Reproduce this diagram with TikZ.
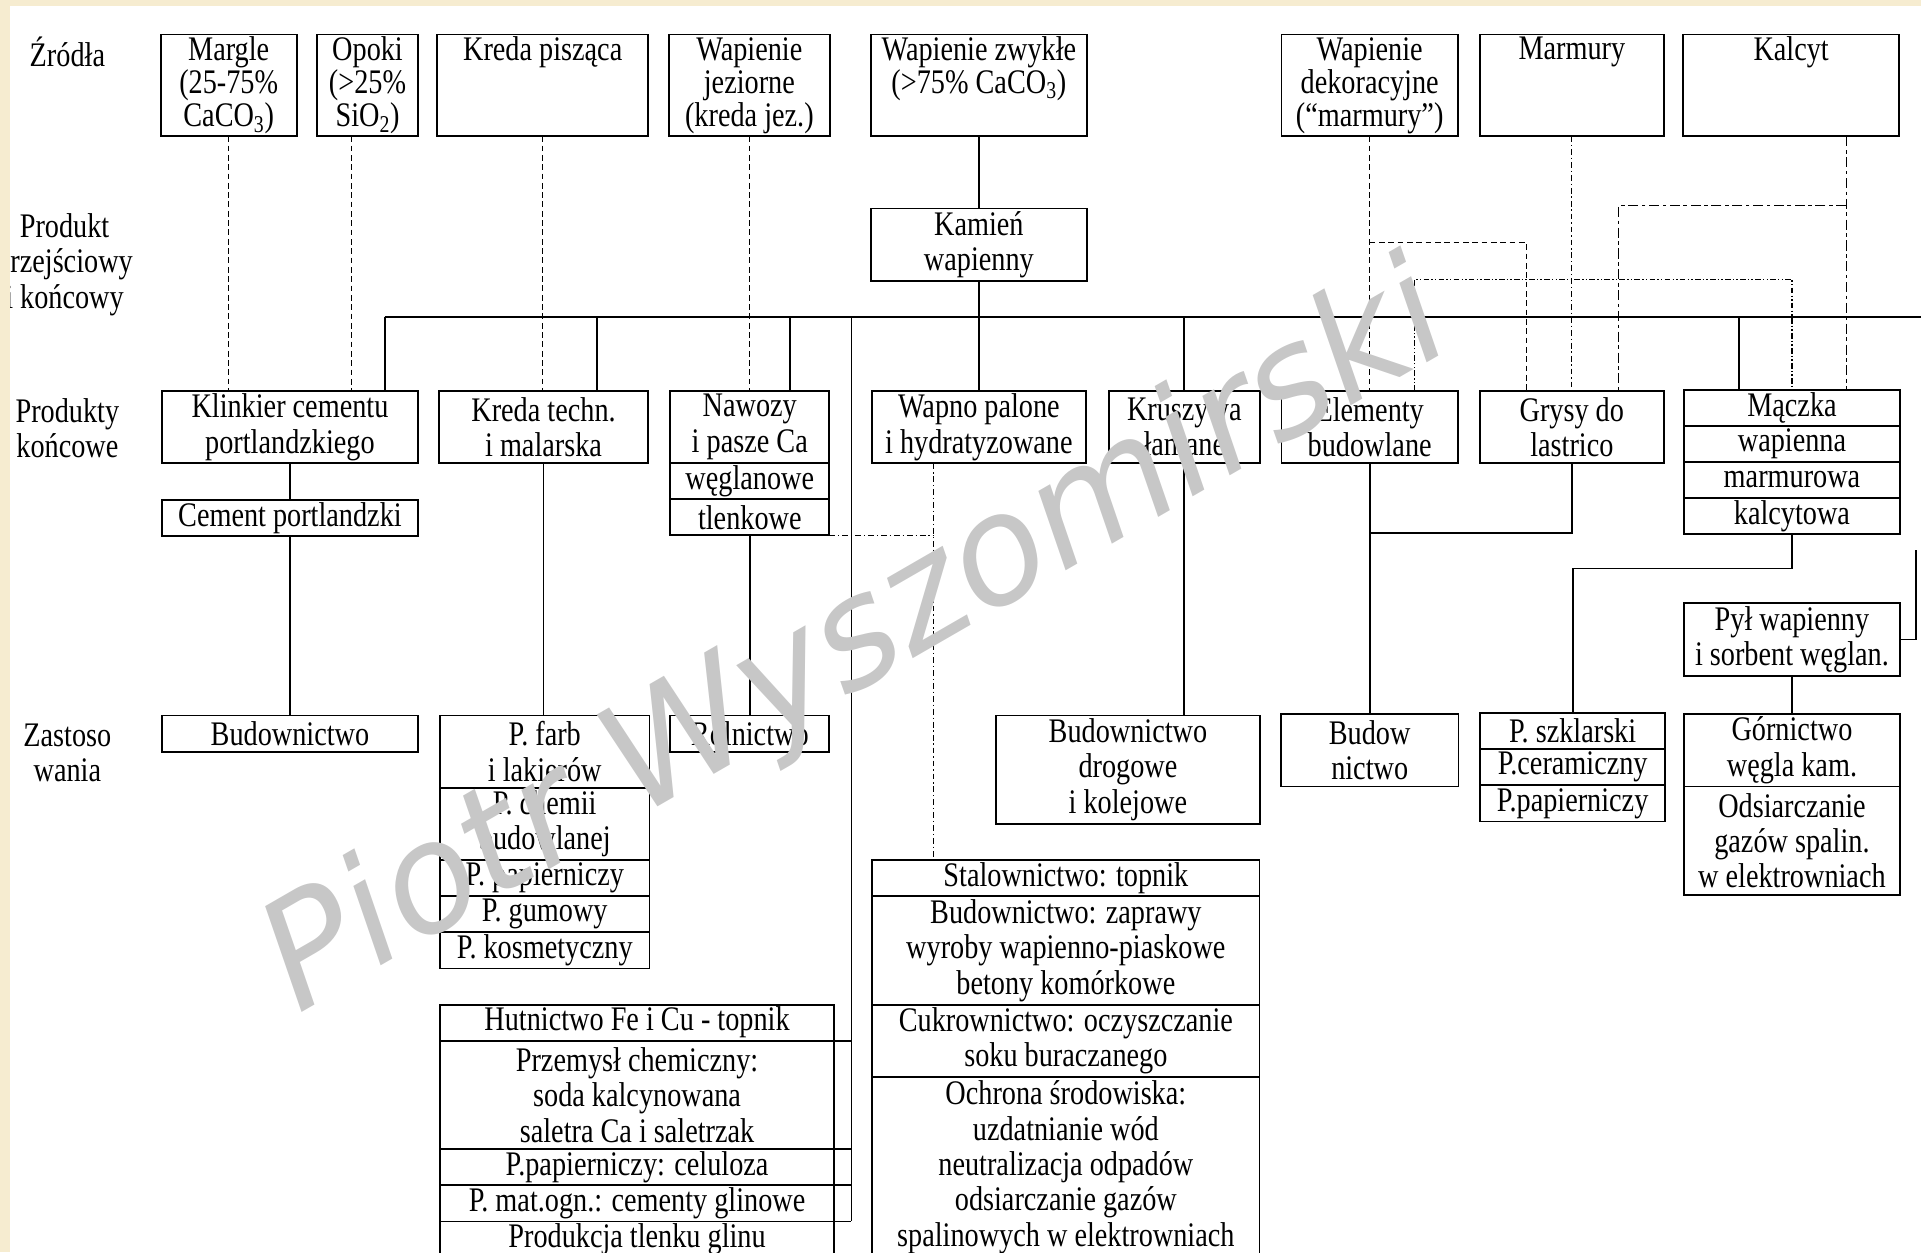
\documentclass[tikz,border=0pt]{standalone}
\usepackage{fontspec}
\setmainfont{Liberation Serif}[FakeStretch=0.82]
\newfontfamily\wmfont{DejaVu Sans}
\usetikzlibrary{positioning}
\definecolor{paper}{RGB}{246,236,208}

\begin{document}
\begin{tikzpicture}[line width=1.3pt, node distance=0pt,
    font=\fontsize{24}{24.7}\selectfont,
    box/.style={draw, align=center, inner sep=0pt, outer sep=0pt},
    src/.style={box, minimum height=2.49cm, font=\fontsize{24}{23}\selectfont},
    h1/.style={box, minimum height=0.885cm},
    h2/.style={box, minimum height=1.77cm},
    h3/.style={box, minimum height=2.655cm},
    h5/.style={box, minimum height=4.425cm},
    lab/.style={align=center, inner sep=0pt},
    dsh/.style={line width=0.8pt, dash pattern=on 4pt off 2.5pt},
    dshdot/.style={line width=0.8pt, dash pattern=on 4pt off 2pt on 1pt off 2pt},
    longdot/.style={line width=0.8pt, dash pattern=on 7pt off 2.5pt on 2.5pt off 2.5pt},
    dotdot/.style={line width=0.8pt, dash pattern=on 4pt off 1.5pt on 1pt off 1.5pt on 1pt off 1.5pt},
    wmark/.style={text=black!22, inner sep=0pt, font=\wmfont\itshape\fontsize{105}{110}\selectfont}]
    \useasboundingbox (0,0) rectangle (47.04,-30.66);
    \clip (0,0) rectangle (47.04,-30.66);

    \node[lab] (zrodla) at (1.65,-1.28) {Źródła};
    \node[lab] (przejsc) at (1.58,-6.48) {Produkt\\ przejściowy\\ i końcowy};
    \node[lab] (koncowe) at (1.65,-10.49) {Produkty\\ końcowe};
    \node[lab] (zastos) at (1.65,-18.44) {Zastoso\\ wania};

    \node[src, minimum width=3.33cm] (margle) at (5.60,-2.09) {Margle\\ (25-75\%\\ CaCO\textsubscript{3})};
    \node[src, minimum width=2.46cm] (opoki) at (9.00,-2.09) {Opoki\\ (>25\%\\ SiO\textsubscript{2})};
    \node[src, minimum width=5.16cm] (kreda) at (13.29,-2.09) {Kreda pisząca\\ \phantom{(}\\ \phantom{(}};
    \node[src, minimum width=3.93cm] (jeziorne) at (18.35,-2.09) {Wapienie\\ jeziorne\\ (kreda jez.)};
    \node[src, minimum width=5.28cm] (zwykle) at (23.97,-2.09) {Wapienie zwykłe\\ (>75\% CaCO\textsubscript{3})\\ \phantom{(}};
    \node[src, minimum width=4.32cm] (dekor) at (33.54,-2.09) {Wapienie\\ dekoracyjne\\ (“marmury”)};
    \node[src, minimum width=4.50cm] (marmury) at (38.49,-2.09) {Marmury\\ \phantom{(}\\ \phantom{(}};
    \node[src, minimum width=5.28cm] (kalcyt) at (43.86,-2.09) {Kalcyt\\ \phantom{(}\\ \phantom{(}};

    \node[h2, minimum width=5.28cm] (kamien) at (23.97,-5.99) {Kamień\\ wapienny};

    \node[h2, minimum width=6.27cm] (klinkier) at (7.10,-10.46) {Klinkier cementu\\ portlandzkiego};
    \node[h1, minimum width=6.27cm] (cement) at (7.10,-12.68) {Cement portlandzki};
    \node[h2, minimum width=5.13cm] (kredatech) at (13.31,-10.46) {Kreda techn.\\ i malarska};
    \node[h2, minimum width=3.90cm, anchor=north] (nawozy1) at (18.36,-9.57) {Nawozy\\ i pasze Ca};
    \node[h1, minimum width=3.90cm, below=of nawozy1] (nawozy2) {węglanowe};
    \node[h1, minimum width=3.90cm, below=of nawozy2] (nawozy3) {tlenkowe};
    \node[h2, minimum width=5.25cm] (wapno) at (23.97,-10.46) {Wapno palone\\ i hydratyzowane};
    \node[h2, minimum width=3.69cm] (kruszywa) at (29.00,-10.46) {Kruszywa\\ łamane};
    \node[h2, minimum width=4.32cm] (elementy) at (33.54,-10.46) {Elementy\\ budowlane};
    \node[h2, minimum width=4.50cm] (grysy) at (38.49,-10.46) {Grysy do\\ lastrico};
    \node[h1, minimum width=5.28cm, anchor=north] (maczka1) at (43.88,-9.54) {Mączka};
    \node[h1, minimum width=5.28cm, below=of maczka1] (maczka2) {wapienna};
    \node[h1, minimum width=5.28cm, below=of maczka2] (maczka3) {marmurowa};
    \node[h1, minimum width=5.28cm, below=of maczka3] (maczka4) {kalcytowa};

    \node[h1, minimum width=6.27cm, anchor=north] (budownictwo) at (7.10,-17.52) {Budownictwo};
    \node[h2, minimum width=5.13cm, anchor=north] (farb1) at (13.34,-17.52) {P. farb\\ i lakierów};
    \node[h2, minimum width=5.13cm, below=of farb1] (farb2) {P. chemii\\ budowlanej};
    \node[h1, minimum width=5.13cm, below=of farb2] (farb3) {P. papierniczy};
    \node[h1, minimum width=5.13cm, below=of farb3] (farb4) {P. gumowy};
    \node[h1, minimum width=5.13cm, below=of farb4] (farb5) {P. kosmetyczny};
    \node[h1, minimum width=3.90cm, anchor=north] (rolnictwo) at (18.36,-17.52) {Rolnictwo};
    \node[h3, minimum width=6.45cm, anchor=north] (drogowe) at (27.62,-17.52) {Budownictwo\\ drogowe\\ i kolejowe};
    \node[h2, minimum width=4.35cm, anchor=north] (budow) at (33.54,-17.49) {Budow\\ nictwo};
    \node[h1, minimum width=4.53cm, anchor=north] (szkl1) at (38.51,-17.46) {P. szklarski};
    \node[h1, minimum width=4.53cm, below=of szkl1] (szkl2) {P.ceramiczny};
    \node[h1, minimum width=4.53cm, below=of szkl2] (szkl3) {P.papierniczy};
    \node[h2, minimum width=5.28cm] (pyl) at (43.88,-15.66) {Pył wapienny\\ i sorbent węglan.};
    \node[h2, minimum width=5.28cm, anchor=north] (gorn1) at (43.88,-17.49) {Górnictwo\\ węgla kam.};
    \node[h3, minimum width=5.28cm, below=of gorn1] (gorn2) {Odsiarczanie\\ gazów spalin.\\ w elektrowniach};

    \node[h1, minimum width=9.48cm, anchor=north] (stal1) at (26.10,-21.06) {Stalownictwo: topnik};
    \node[h3, minimum width=9.48cm, below=of stal1] (stal2) {Budownictwo: zaprawy\\ wyroby wapienno-piaskowe\\ betony komórkowe};
    \node[h2, minimum width=9.48cm, below=of stal2] (stal3) {Cukrownictwo: oczyszczanie\\ soku buraczanego};
    \node[h5, minimum width=9.48cm, below=of stal3] (stal4) {Ochrona środowiska:\\ uzdatnianie wód\\ neutralizacja odpadów\\ odsiarczanie gazów\\ spalinowych w elektrowniach};

    \node[h1, minimum width=9.66cm, anchor=north] (hut1) at (15.60,-24.60) {Hutnictwo Fe i Cu - topnik};
    \node[h3, minimum width=9.66cm, below=of hut1] (hut2) {Przemysł chemiczny:\\ soda kalcynowana\\ saletra Ca i saletrzak};
    \node[h1, minimum width=9.66cm, below=of hut2] (hut3) {P.papierniczy: celuloza};
    \node[h1, minimum width=9.66cm, below=of hut3] (hut4) {P. mat.ogn.: cementy glinowe};
    \node[h1, minimum width=9.66cm, below=of hut4] (hut5) {Produkcja tlenku glinu};

    \coordinate (busL) at (9.42,-7.77);
    \coordinate (busR) at (47.20,-7.77);
    \coordinate (b2) at (14.61,-7.77);
    \coordinate (b3) at (19.35,-7.77);
    \coordinate (b4) at (20.85,-7.77);
    \coordinate (b7) at (42.59,-7.77);
    \coordinate (opokiout) at (8.61,-3.34);
    \coordinate (wapnoout) at (22.86,-11.35);
    \coordinate (gj) at (33.54,-13.05);
    \coordinate (pylR) at (46.92,-13.47);
    \coordinate (dj) at (33.54,-5.94);
    \coordinate (dk) at (37.38,-5.94);
    \coordinate (kalout) at (45.21,-3.34);
    \coordinate (kj) at (45.21,-5.04);
    \coordinate (kk) at (39.63,-5.04);
    \coordinate (ea) at (34.64,-6.84);
    \coordinate (eb) at (43.88,-6.84);

    \draw (busL) -- (busR)
        (busL) -- (busL |- klinkier.north)
        (b2) -- (b2 |- kredatech.north)
        (b3) -- (b3 |- nawozy1.north)
        (b4) -- (b4 |- hut5.north)
        (kruszywa.north |- busL) -- (kruszywa.north)
        (b7) -- (b7 |- maczka1.north)
        (zwykle) -- (kamien)
        (kamien) -- (wapno)
        (klinkier) -- (cement)
        (cement) -- (budownictwo)
        (kredatech.south) -- (kredatech.south |- farb1.north)
        (nawozy3) -- (rolnictwo)
        (kruszywa.south) -- (kruszywa.south |- drogowe.north)
        (elementy) -- (budow)
        (grysy.south) |- (gj)
        (maczka4.south) -- ++(0,-0.84) -| (szkl1.north)
        (pyl) -- (gorn1)
        (pyl.east) -| (pylR)
        (hut1.south east) -- (hut1.south east -| b4)
        (hut2.south east) -- (hut2.south east -| b4)
        (hut3.south east) -- (hut3.south east -| b4)
        (hut4.south east) -- (hut4.south east -| b4)
    ;

    \draw[dsh] (margle.south) -- (margle.south |- klinkier.north)
        (opokiout) -- (opokiout |- klinkier.north)
        (kreda.south) -- (kreda.south |- kredatech.north)
        (jeziorne.south) -- (jeziorne.south |- nawozy1.north)
        (dekor) -- (elementy)
        (dj) -- (dk) -- (dk |- grysy.north)
    ;
    \draw[dshdot] (marmury) -- (grysy)
        (wapnoout) -- (wapnoout |- stal1.north)
        (nawozy3.south east) -- (nawozy3.south east -| wapnoout)
    ;
    \draw[longdot] (kalout) -- (kalout |- maczka1.north)
        (kj) -- (kk) -- (kk |- grysy.north)
    ;
    \draw[dotdot] (ea |- elementy.north) -- (ea) -- (eb) -- (eb |- maczka1.north);

    \node[wmark, rotate=30] (znak) at (21.00,-15.75) {Piotr Wyszomirski};

    \fill[paper] (0,0) rectangle (47.04,-0.15);
    \fill[paper] (0,0) rectangle (0.24,-30.66);
\end{tikzpicture}
\end{document}
